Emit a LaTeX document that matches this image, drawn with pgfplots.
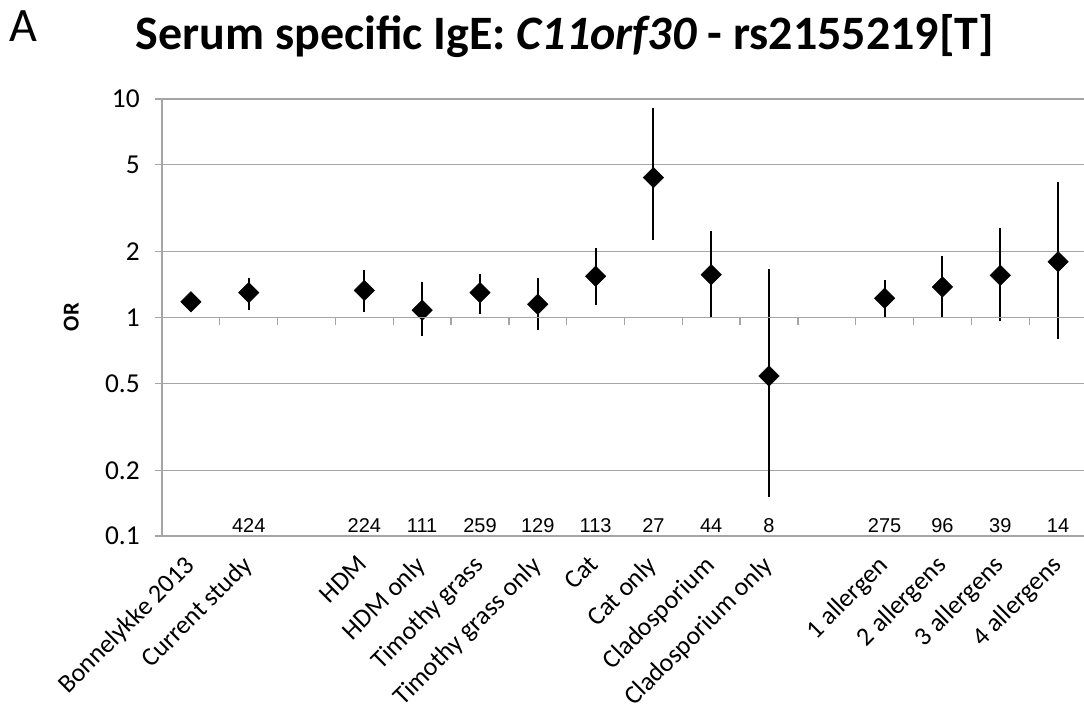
\documentclass[border=0pt]{standalone}
\usepackage{pgfplots}
\pgfplotsset{compat=1.18}
\usepackage{pgfplotstable}
\usepackage{fontspec}
\setmainfont{Carlito}
\newfontfamily\arialf{Liberation Sans}
\definecolor{gridgray}{RGB}{165,165,165}

\pgfplotstableread{
x y
0 1.18
1 1.30
3 1.33
4 1.08
5 1.30
6 1.15
7 1.545
8 4.37
9 1.57
10 0.54
12 1.225
13 1.38
14 1.56
15 1.80
}\ortable

\pgfplotstableread{
x y
1 1.08
1 1.52
1 nan
3 1.065
3 1.65
3 nan
4 0.82
4 1.46
4 nan
5 1.04
5 1.59
5 nan
6 0.88
6 1.52
6 nan
7 1.14
7 2.08
7 nan
8 2.26
8 9.07
8 nan
9 0.99
9 2.48
9 nan
10 0.151
10 1.66
10 nan
12 1.00
12 1.49
12 nan
13 1.00
13 1.91
13 nan
14 0.96
14 2.58
14 nan
15 0.80
15 4.18
}\citable

\pgfplotstableread{
x y n
1 0.1 424
3 0.1 224
4 0.1 111
5 0.1 259
6 0.1 129
7 0.1 113
8 0.1 27
9 0.1 44
10 0.1 8
12 0.1 275
13 0.1 96
14 0.1 39
15 0.1 14
}\ntable

\begin{document}
\begin{tikzpicture}
\begin{axis}[
  at={(0,0)}, anchor=south west, scale only axis,
  width=693.75pt, height=327.75pt,
  ymode=log, log basis y=10,
  ymin=0.1, ymax=10,
  xmin=-0.5, xmax=15.5,
  ytick={0.1,0.2,0.5,1,2,5,10},
  yticklabels={0.1,0.2,0.5,1,2,5,10},
  ymajorgrids, grid style={draw=gridgray, line width=1pt},
  axis x line*=bottom, axis y line*=left,
  axis line style={draw=gridgray, line width=1pt, -},
  xtick={0,1,3,4,5,6,7,8,9,10,12,13,14,15},
  xticklabels={Bonnelykke 2013,Current study,HDM,HDM only,Timothy grass,Timothy grass only,Cat,Cat only,Cladosporium,Cladosporium only,1 allergen,2 allergens,3 allergens,4 allergens},
  x tick style={draw=none},
  y tick style={draw=gridgray, line width=1pt},
  tick align=outside, major tick length=5.25pt,
  xticklabel style={font=\fontsize{19.5}{23}\selectfont, xshift=-6pt, yshift=1.5pt, rotate=45, anchor=north east, inner sep=0pt},
  xticklabel shift=9.5pt,
  yticklabel style={font=\fontsize{20.5}{24}\selectfont},
  yticklabel shift=8pt,
  /pgf/number format/assume math mode=true,
  clip=false,
]
\addplot[black, line width=1.5pt, unbounded coords=jump, mark=none] table[x=x,y=y] {\citable};
\addplot[only marks, mark=square*, mark size=5.4pt, mark options={rotate=45, fill=black, draw=black}] table[x=x,y=y] {\ortable};
\addplot[draw=none, mark=none, nodes near coords, point meta=explicit symbolic,
  nodes near coords style={anchor=base, yshift=2.5pt, font=\arialf\fontsize{15}{18}\selectfont, text=black}]
  table[x=x,y=y,meta=n] {\ntable};
\end{axis}
\begin{axis}[
  at={(0,0)}, anchor=south west, scale only axis,
  width=693.75pt, height=327.75pt,
  ymode=log, ymin=0.1, ymax=10,
  xmin=-0.5, xmax=15.5,
  axis x line=middle, axis y line=none,
  every inner x axis line/.append style={-},
  axis line style={draw=gridgray, line width=1.2pt, -},
  xtick={0.5,1.5,...,14.5}, xticklabels={},
  ytick=\empty,
  x tick style={draw=gridgray, line width=1pt},
  tick align=outside, major tick length=5.5pt,
]
\end{axis}
\node[anchor=base, font=\fontsize{36}{42}\selectfont\bfseries] at (302.25pt,364.5pt) {Serum specific IgE: \textit{C11orf30} - rs2155219[T]};
\node[anchor=base west, font=\fontsize{36}{42}\selectfont, inner sep=0pt] at (-114.5pt,370.5pt) {A};
\node[rotate=90, anchor=center, font=\fontsize{17}{20}\selectfont\bfseries] at (-68pt,164.25pt) {OR};
\pgfresetboundingbox
\path[use as bounding box] (-121.5pt,-133.5pt) rectangle (691.5pt,402pt);
\end{tikzpicture}
\end{document}
